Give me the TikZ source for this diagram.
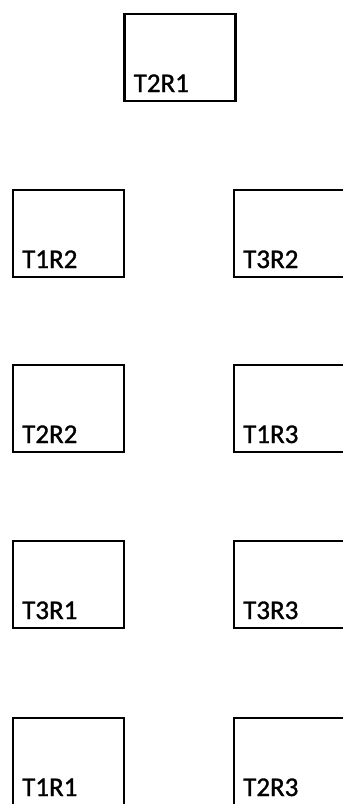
\documentclass[tikz,border=0pt]{standalone}
\usepackage{fontspec}
\setmainfont{Carlito}
\newfontfamily\lblfont{Carlito}[FakeBold=1.2]
\begin{document}
\begin{tikzpicture}[x=1pt,y=-1pt,
  box/.style={draw=black,line width=2.4pt,rectangle,inner sep=0pt,outer sep=0pt,
    minimum width=111pt,minimum height=87pt,anchor=north west},
  lbl/.style={anchor=base west,inner sep=0pt,font=\lblfont\fontsize{27}{32}\selectfont}]
\useasboundingbox (0,0) rectangle (343,804);
\clip (0,0) rectangle (343,804);
% boxes
\node[box] (bT2R1) at (124.5,14) {};
\node[box] (bT1R2) at (13,190) {};
\node[box] (bT3R2) at (234,190) {};
\node[box] (bT2R2) at (13,365) {};
\node[box] (bT1R3) at (234,365) {};
\node[box] (bT3R1) at (13,541) {};
\node[box] (bT3R3) at (234,541) {};
\node[box] (bT1R1) at (13,718) {};
\node[box] (bT2R3) at (234,718) {};
% labels
\foreach \n in {T2R1,T1R2,T3R2,T2R2,T1R3,T3R1,T3R3,T1R1,T2R3}{
  \node[lbl] (l\n) at ([shift={(9,-9)}]b\n.south west) {\n};
}
\end{tikzpicture}
\end{document}
